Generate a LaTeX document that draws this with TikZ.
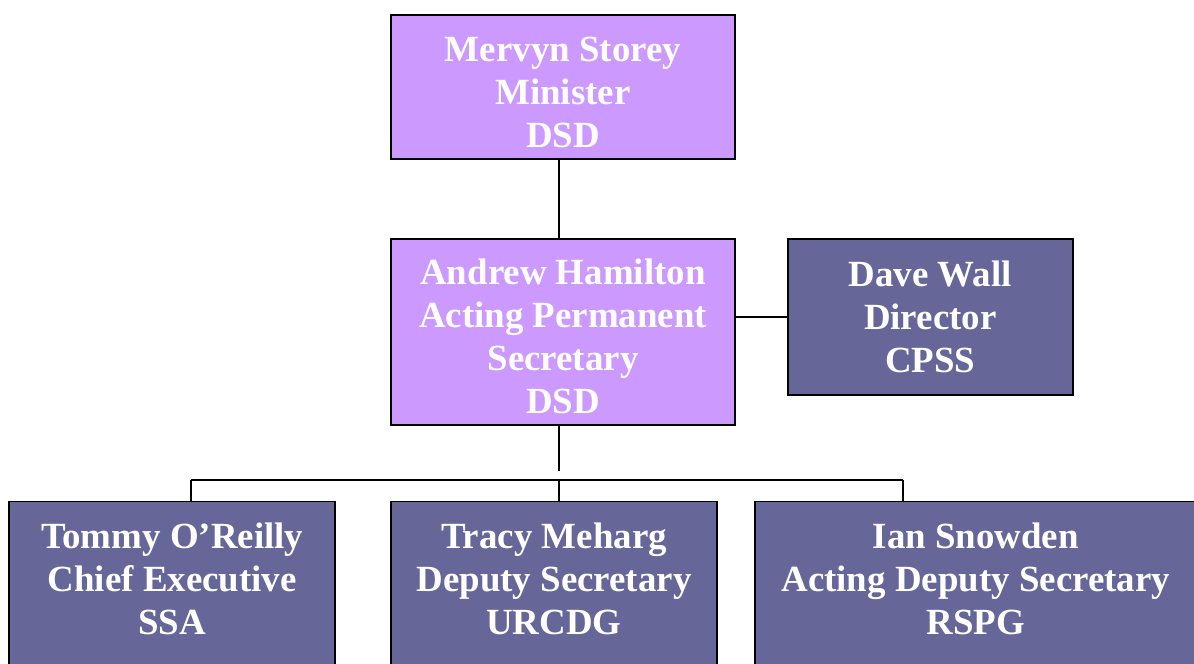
\documentclass[tikz,border=0pt]{standalone}
\usepackage{fontspec}
\setmainfont{Liberation Serif}
\usetikzlibrary{positioning}
\definecolor{lilac}{HTML}{CC99FF}
\definecolor{slate}{HTML}{666699}
\tikzset{%
  every post/.style={
    draw=black,
    line width=1pt,
    text=white,
    align=center,
    inner sep=0pt,
    font=\bfseries\fontsize{21}{24.5}\selectfont
  },
  senior post/.style={
    every post,
    fill=lilac,
    minimum width=68.8mm
  },
  staff post/.style={
    every post,
    fill=slate,
    minimum width=65.2mm,
    inner ysep=12pt,
    text depth=72pt
  },
}

\begin{document}
\begin{tikzpicture}[x=0.2mm,y=-0.2mm,line width=1pt]
        \useasboundingbox (0,0) rectangle (1194,664);

        \node[senior post,minimum height=28.8mm,text height=69pt] (minister) at (563,87) {Mervyn Storey\\Minister\\DSD};
        \node[senior post,minimum height=37.2mm,text height=93.4pt,below=15.6mm of minister] (perm) {Andrew Hamilton\\Acting Permanent\\Secretary\\DSD};
        \node[every post,fill=slate,minimum width=57mm,minimum height=31.2mm,right=10.2mm of perm.north east,anchor=north west] (cpss) {Dave Wall\\Director\\CPSS};
        \node[staff post,below=15mm of perm.south west,anchor=north west] (urcdg) {Tracy Meharg\\Deputy Secretary\\URCDG};
        \node[staff post,left=10.8mm of urcdg.north west,anchor=north east] (ssa) {Tommy O’Reilly\\Chief Executive\\SSA};
        \node[staff post,minimum width=88.4mm,right=7.2mm of urcdg.north east,anchor=north west] (rspg) {Ian Snowden\\Acting Deputy Secretary\\RSPG};

        \coordinate (stub) at (559,471);
        \coordinate (busL) at (191,480);
        \coordinate (busM) at (559,480);
        \coordinate (busR) at (903,480);

        \draw (stub |- minister.south) -- (stub |- perm.north);
        \draw (cpss.west -| perm.east) -- (cpss.west);
        \draw (stub |- perm.south) -- (stub);
        \draw (busL) -- (busR);
        \draw (busL) -- (busL |- ssa.north);
        \draw (busM) -- (busM |- urcdg.north);
        \draw (busR) -- (busR |- rspg.north);
    \end{tikzpicture}
\end{document}
